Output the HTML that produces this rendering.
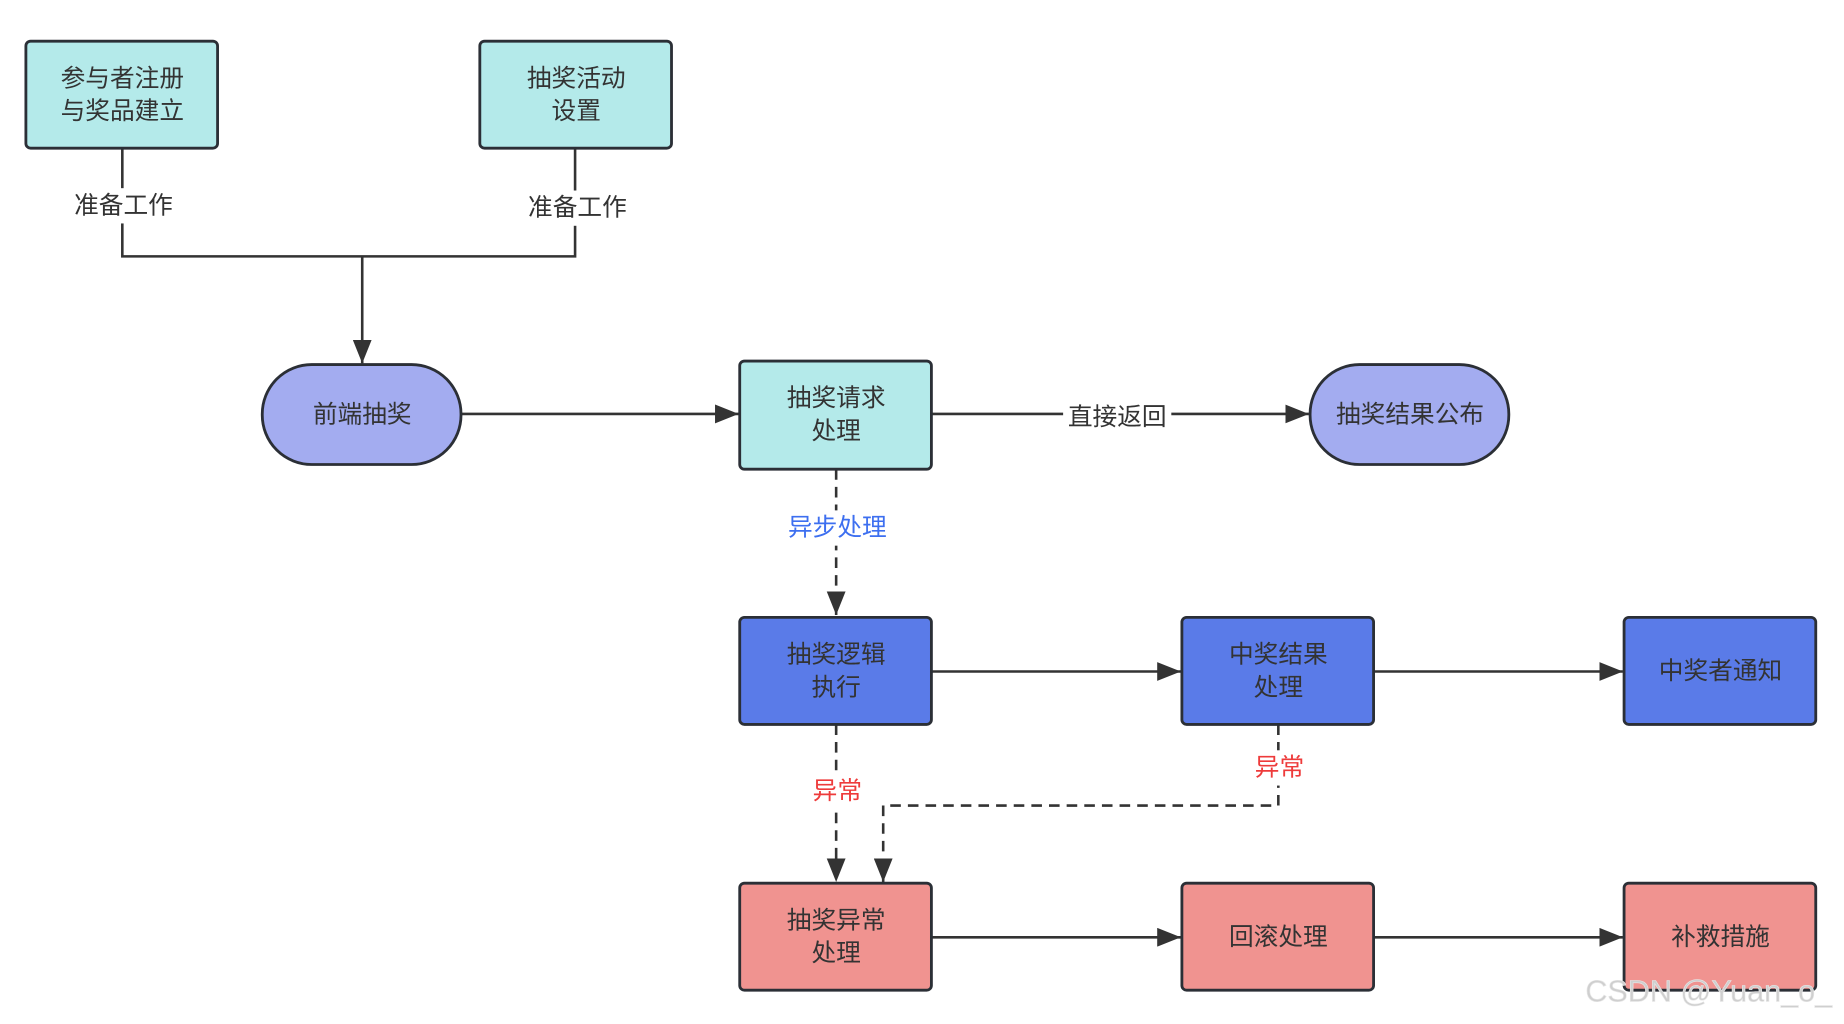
<!DOCTYPE html>
<html><head><meta charset="utf-8"><style>
html,body{margin:0;padding:0;background:#fff;}
svg{display:block;}
text{font-family:"Liberation Sans","Noto Sans CJK SC",sans-serif;font-size:21px;fill:#333;text-anchor:middle;dominant-baseline:central;}
</style></head><body>
<svg width="1844" height="1024" viewBox="0 0 1568 870.75" xmlns="http://www.w3.org/2000/svg">
<defs>
<marker id="a" markerWidth="10" markerHeight="10" refX="9" refY="5" orient="auto" markerUnits="userSpaceOnUse" viewBox="0 0 10 10"><path d="M0,0 L10,5 L0,10 z" fill="#333" transform="scale(1)"/></marker>
<marker id="b" markerWidth="20" markerHeight="16" refX="20" refY="8" orient="auto" markerUnits="userSpaceOnUse"><path d="M0,0 L20,8 L0,16 z" fill="#333"/></marker>
</defs>
<g fill="none" stroke="#333" stroke-width="2.2">
<polyline points="104,126 104,218 489,218 489,126"/>
<line x1="308" y1="218" x2="308" y2="309" marker-end="url(#b)"/>
<line x1="392" y1="352" x2="628" y2="352" marker-end="url(#b)"/>
<line x1="792" y1="352" x2="1113" y2="352" marker-end="url(#b)"/>
<line x1="711" y1="399" x2="711" y2="523" stroke-dasharray="9,6" marker-end="url(#b)"/>
<line x1="792" y1="571" x2="1004" y2="571" marker-end="url(#b)"/>
<line x1="1168" y1="571" x2="1380" y2="571" marker-end="url(#b)"/>
<line x1="711" y1="616" x2="711" y2="750" stroke-dasharray="9,6" marker-end="url(#b)"/>
<polyline points="1087,616 1087,685 751,685 751,750" stroke-dasharray="9,6" marker-end="url(#b)"/>
<line x1="792" y1="797" x2="1004" y2="797" marker-end="url(#b)"/>
<line x1="1168" y1="797" x2="1380" y2="797" marker-end="url(#b)"/>
</g>
<g stroke="#2b2f36" stroke-width="2.4">
<rect x="22" y="35" width="163" height="91" rx="4" fill="#b4eaea"/>
<rect x="408" y="35" width="163" height="91" rx="4" fill="#b4eaea"/>
<rect x="223" y="310" width="169" height="85" rx="42" fill="#a3acf0"/>
<rect x="629" y="307" width="163" height="92" rx="4" fill="#b4eaea"/>
<rect x="1114" y="310" width="169" height="85" rx="42" fill="#a3acf0"/>
<rect x="629" y="525" width="163" height="91" rx="4" fill="#5a7be8"/>
<rect x="1005" y="525" width="163" height="91" rx="4" fill="#5a7be8"/>
<rect x="1381" y="525" width="163" height="91" rx="4" fill="#5a7be8"/>
<rect x="629" y="751" width="163" height="91" rx="4" fill="#f09390"/>
<rect x="1005" y="751" width="163" height="91" rx="4" fill="#f09390"/>
<rect x="1381" y="751" width="163" height="91" rx="4" fill="#f09390"/>
</g>
<g fill="#fff">
<rect x="58" y="160" width="94" height="30"/>
<rect x="444" y="162" width="94" height="30"/>
<rect x="904" y="340" width="92" height="30"/>
<rect x="666" y="434" width="92" height="30"/>
<rect x="688" y="658" width="46" height="30"/>
<rect x="1064" y="638" width="46" height="30"/>
</g>
<text x="104" y="67">参与者注册</text><text x="104" y="95">与奖品建立</text>
<text x="490" y="67">抽奖活动</text><text x="490" y="95">设置</text>
<text x="105" y="175">准备工作</text>
<text x="491" y="177">准备工作</text>
<text x="308" y="353">前端抽奖</text>
<text x="711" y="339">抽奖请求</text><text x="711" y="367">处理</text>
<text x="950" y="355">直接返回</text>
<text x="1199" y="353">抽奖结果公布</text>
<text x="712" y="449" style="fill:#3d6ff0">异步处理</text>
<text x="711" y="557">抽奖逻辑</text><text x="711" y="585">执行</text>
<text x="1087" y="557">中奖结果</text><text x="1087" y="585">处理</text>
<text x="1463" y="571">中奖者通知</text>
<text x="712" y="673" style="fill:#ee3b3b">异常</text>
<text x="1088" y="653" style="fill:#ee3b3b">异常</text>
<text x="711" y="783">抽奖异常</text><text x="711" y="811">处理</text>
<text x="1087" y="797">回滚处理</text>
<text x="1463" y="797">补救措施</text>
<text x="1453" y="843" style="fill:#cfcfcf;font-size:26px;stroke:#e8e8e8;stroke-width:0.5">CSDN @Yuan_o_</text>
</svg>
</body></html>
